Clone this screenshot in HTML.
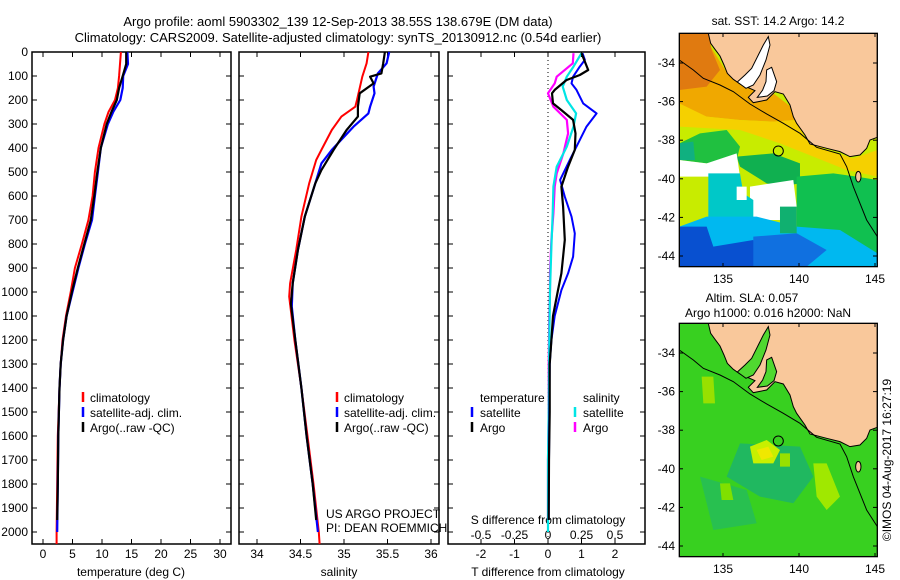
<!DOCTYPE html>
<html><head><meta charset="utf-8"><style>
html,body{margin:0;padding:0;background:#fff;}
svg{display:block;font-family:"Liberation Sans",sans-serif;}
</style></head><body>
<svg id="fig" width="900" height="580" viewBox="0 0 900 580" xmlns="http://www.w3.org/2000/svg">
<text x="338" y="26" font-size="13" text-anchor="middle">Argo profile: aoml 5903302_139 12-Sep-2013 38.55S 138.679E (DM data)</text>
<text x="338" y="42" font-size="13" text-anchor="middle">Climatology: CARS2009. Satellite-adjusted climatology: synTS_20130912.nc (0.54d earlier)</text>
<g id="panels"></g>
<g id="maps"></g>
<text transform="translate(891,460) rotate(-90)" font-size="12" text-anchor="middle">©IMOS 04-Aug-2017 16:27:19</text>
</svg>
<script>
// ---- data ----
const depthTicks = [0,100,200,300,400,500,600,700,800,900,1000,1100,1200,1300,1400,1500,1600,1700,1800,1900,2000];
const tempTicks = [0,5,10,15,20,25,30];
const salTicks = [34,34.5,35,35.5,36];
const tdiffTicks = [-2,-1,0,1,2];
const sdiffTicks = [-0.5,-0.25,0,0.25,0.5];
const tempClimD = [0,100,150,200,250,300,400,500,600,700,800,900,1000,1100,1200,1300,1400,1600,1800,2000,2050];
const tempClim = [13.2,12.9,12.7,12.2,11.1,10.4,9.4,8.8,8.4,7.7,6.6,5.4,4.7,3.9,3.3,3.0,2.8,2.5,2.4,2.3,2.3];
const tempArgoD = [0,50,100,150,200,250,300,400,500,600,700,800,900,1000,1100,1200,1300,1400,1600,1800,1950];
const tempArgo = [14.1,14.1,13.5,12.9,12.5,11.6,10.8,9.8,9.2,8.7,8.1,7.0,5.9,4.9,4.0,3.4,3.0,2.8,2.6,2.5,2.4];
const tempSatD = [0,50,100,150,200,250,300,400,500,600,700,800,900,1000,1100,1200,1300,1400,1600,1800,2000];
const tempSat = [14.3,14.4,13.6,13.5,13.1,11.9,11.0,9.8,9.3,8.8,8.3,7.1,6.0,5.0,4.0,3.4,3.0,2.8,2.6,2.5,2.4];
const salClimD = [0,47,103,200,228,269,325,408,450,547,686,825,964,1019,1200,1400,1600,1800,2000,2050];
const salClim = [35.28,35.26,35.21,35.15,35.13,34.97,34.86,34.74,34.68,34.60,34.51,34.45,34.38,34.37,34.43,34.51,34.58,34.65,34.71,34.72];
const salArgoD = [0,47,89,103,131,172,228,269,325,408,492,547,686,825,964,1050,1200,1400,1600,1800,1950];
const salArgo = [35.47,35.45,35.43,35.30,35.34,35.18,35.16,35.16,35.03,34.88,34.74,34.67,34.55,34.47,34.41,34.39,34.44,34.51,34.57,34.64,34.68];
const salSatD = [0,47,89,144,172,228,256,311,408,464,547,686,825,964,1061,1200,1400,1600,1800,2000];
const salSat = [35.52,35.49,35.39,35.34,35.35,35.30,35.28,35.11,34.86,34.74,34.67,34.55,34.47,34.41,34.40,34.44,34.51,34.57,34.64,34.70];
const tdArgoD = [5,75,96,117,158,172,214,242,283,339,408,478,561,644,783,922,992,1100,1200,1300,1500,1700,1950];
const tdArgo = [1.0,1.2,0.95,0.55,0.2,0.12,0.15,0.4,0.75,0.82,0.8,0.6,0.4,0.45,0.5,0.4,0.3,0.15,0.1,0.05,0.05,0.03,0.02];
const tdSatD = [5,33,61,103,131,158,214,256,311,394,450,533,603,686,756,853,922,992,1100,1200,1300,1500,1700,1950];
const tdSat = [1.03,1.1,0.95,0.75,0.7,0.85,1.05,1.45,1.15,0.85,0.65,0.36,0.5,0.7,0.8,0.75,0.6,0.4,0.2,0.1,0.05,0.04,0.03,0.02];
const sdArgoD = [5,47,103,131,172,228,283,339,422,506,561,672,783,922,992,1100,1300,1500,1700,1950];
const sdArgo = [0.19,0.185,0.065,0.05,0,0.04,0.14,0.15,0.115,0.065,0.05,0.04,0.025,0.015,0.015,0.01,0.005,0.005,0,0];
const sdSatD = [5,61,103,144,200,256,311,394,478,561,672,811,992,1200,1500,1700,2000];
const sdSat = [0.25,0.19,0.14,0.11,0.14,0.21,0.19,0.14,0.065,0.04,0.035,0.025,0.015,0.01,0.005,0,0];
const latTicks = [-34,-36,-38,-40,-42,-44];
const lonTicks = [135,140,145];

const NS="http://www.w3.org/2000/svg";
const P=document.getElementById('panels');
function mk(tag,at,parent){const e=document.createElementNS(NS,tag);for(const k in at)e.setAttribute(k,at[k]);(parent||P).appendChild(e);return e;}
const yD = d => 52 + 0.24*d;
const TOPY=52, BOTY=544;

function frame(x0,x1,name){
  const r=mk('rect',{x:x0,y:TOPY,width:x1-x0,height:BOTY-TOPY,fill:'none',stroke:'#000','stroke-width':1.5});
  
  
  depthTicks.forEach(d=>{
    const t=mk('line',{x1:x0,x2:x0+5,y1:yD(d),y2:yD(d),stroke:'#000'});
    
    
    const t2=mk('line',{x1:x1-5,x2:x1,y1:yD(d),y2:yD(d),stroke:'#000'});
    
    
  });
}
function xTicks(vals,fx,labels,ly){
  vals.forEach((v,i)=>{
    const x=fx(v);
    const a=mk('line',{x1:x,x2:x,y1:TOPY,y2:TOPY+5,stroke:'#000'});
    
    
    const b=mk('line',{x1:x,x2:x,y1:BOTY-5,y2:BOTY,stroke:'#000'});
    
    
    if(labels){
      const t=mk('text',{x:x,y:ly,'font-size':12,'text-anchor':'middle'});
      t.textContent=labels[i];
      
      
    }
  });
}
function line(ds,vs,fx,color,name,w){
  const pts=ds.map((d,i)=>fx(vs[i]).toFixed(1)+','+yD(d).toFixed(1)).join(' ');
  const l=mk('polyline',{points:pts,fill:'none',stroke:color,'stroke-width':w||2,'stroke-linejoin':'round'});
  
  
}
function txt(x,y,s,name,anchor,size){
  const t=mk('text',{x:x,y:y,'font-size':size||12,'text-anchor':anchor||'start'});
  t.textContent=s;
  
  
}
function legBar(x,y,color,name){
  const b=mk('line',{x1:x,x2:x,y1:y-10,y2:y,stroke:color,'stroke-width':2.5});
  
  
}

// Panel 1 temperature
const fT = v => 43 + 5.9*v;
frame(32,231,'temperature-panel-frame');
depthTicks.forEach(d=>txt(28,yD(d)+4,String(d),'depth-tick-label','end'));
xTicks(tempTicks,fT,tempTicks.map(String),558);
txt(131,576,'temperature (deg C)','temperature-axis-title','middle');
line(tempClimD,tempClim,fT,'#ff0000','temp-climatology-line',2);
line(tempSatD,tempSat,fT,'#0000ff','temp-satellite-line',2.2);
line(tempArgoD,tempArgo,fT,'#000000','temp-argo-line',2.2);
legBar(83,402,'#ff0000','legend-climatology-swatch');txt(90,402,'climatology','legend-climatology');
legBar(83,417,'#0000ff','legend-satellite-swatch');txt(90,417,'satellite-adj. clim.','legend-satellite');
legBar(83,432,'#000000','legend-argo-swatch');txt(90,432,'Argo(..raw -QC)','legend-argo');

// Panel 2 salinity
const fS = v => 257 + 87*(v-34);
frame(239,439,'salinity-panel-frame');
xTicks(salTicks,fS,salTicks.map(String),558);
txt(339,576,'salinity','salinity-axis-title','middle');
line(salClimD,salClim,fS,'#ff0000','sal-climatology-line',2);
line(salSatD,salSat,fS,'#0000ff','sal-satellite-line',2.2);
line(salArgoD,salArgo,fS,'#000000','sal-argo-line',2.2);
legBar(337,402,'#ff0000','legend2-climatology-swatch');txt(344,402,'climatology','legend2-climatology');
legBar(337,417,'#0000ff','legend2-satellite-swatch');txt(344,417,'satellite-adj. clim.','legend2-satellite');
legBar(337,432,'#000000','legend2-argo-swatch');txt(344,432,'Argo(..raw -QC)','legend2-argo');
txt(326,518,'US ARGO PROJECT','project-credit');
txt(326,532,'PI: DEAN ROEMMICH','pi-credit');

// Panel 3 differences
const fTd = v => 548 + 33.5*v;
const fSd = v => 548 + 134*v;
frame(448,645,'difference-panel-frame');
xTicks(tdiffTicks,fTd,tdiffTicks.map(String),558);
sdiffTicks.forEach((v,i)=>txt(fSd(v),539,String(v),'s-diff-tick-label','middle'));
txt(548,524,'S difference from climatology','s-diff-axis-title','middle');
txt(548,576,'T difference from climatology','t-diff-axis-title','middle');
const z=mk('line',{x1:548,x2:548,y1:TOPY,y2:BOTY,stroke:'#000','stroke-dasharray':'1,3'});


line(sdArgoD,sdArgo,fSd,'#ff00ff','sdiff-argo-line',2.2);
line(sdSatD,sdSat,fSd,'#00e5e5','sdiff-satellite-line',2.2);
line(tdSatD,tdSat,fTd,'#0000ff','tdiff-satellite-line',2);
line(tdArgoD,tdArgo,fTd,'#000000','tdiff-argo-line',2.2);
txt(480,402,'temperature','legend3-temperature-header');
txt(583,402,'salinity','legend3-salinity-header');
legBar(472,417,'#0000ff','legend3-tsat-swatch');txt(480,417,'satellite','legend3-tsat');
legBar(472,432,'#000000','legend3-targo-swatch');txt(480,432,'Argo','legend3-targo');
legBar(575,417,'#00e5e5','legend3-ssat-swatch');txt(583,417,'satellite','legend3-ssat');
legBar(575,432,'#ff00ff','legend3-sargo-swatch');txt(583,432,'Argo','legend3-sargo');

// ---- maps ----
const M=document.getElementById('maps');
function mm(tag,at,parent){const e=document.createElementNS(NS,tag);for(const k in at)e.setAttribute(k,at[k]);parent.appendChild(e);return e;}
const land="205,40 212,70 225,88 240,108 252,135 262,160 280,178 300,192 345,212 325,232 340,248 380,240 405,215 430,222 450,255 460,290 470,310 495,345 510,372 560,385 600,395 630,410 660,405 680,385 690,360 712,352 712,40";
const gulfA="292,186 315,165 335,145 355,105 370,75 385,50 390,75 378,120 360,165 340,195 318,205";
const gulfB="380,150 395,142 410,185 402,212 382,228 352,232 368,210 378,185";
const shelf="118,120 160,150 190,175 240,195 280,215 330,252 380,282 430,310 480,340 530,382 600,402 620,440 640,500 680,600 712,650";
const oceanRegionsSST=[
 ['#c8ec00','118,40 712,40 712,740 118,740'],
 ['#f0a800','118,40 205,40 212,80 262,160 300,185 400,220 455,262 465,300 400,305 300,300 200,290 118,290'],
 ['#e07a10','118,40 205,40 215,90 240,150 200,200 118,210'],
 ['#f5d000','118,250 200,290 300,300 400,305 465,300 500,360 560,390 640,415 712,390 712,470 620,450 520,410 420,370 300,330 118,320'],
 ['#20c040','118,370 180,340 260,330 300,380 290,420 200,430 118,420'],
 ['#10b080','118,370 160,365 165,420 118,420'],
 ['#10b050','290,410 400,400 480,430 480,490 420,500 380,490 300,440'],
 ['#10c050','470,470 580,460 650,470 712,480 712,740 470,740'],
 ['#ffffff','118,420 200,430 290,400 300,470 210,470 118,470'],
 ['#ffffff','330,500 460,480 470,560 420,600 330,600'],
 ['#00c8c8','205,460 300,460 310,520 340,540 340,600 205,600'],
 ['#00b8f0','200,590 350,590 470,620 600,630 712,700 712,740 118,740 118,620'],
 ['#0850d0','118,620 200,620 220,680 340,660 350,740 118,740'],
 ['#1070e0','340,650 470,640 560,690 500,740 340,740'],
 ['#ffffff','290,500 320,500 320,540 290,540'],
 ['#10b070','420,560 470,560 470,640 420,640']
];
const oceanRegionsSLA=[
 ['#38d020','118,100 712,100 712,800 118,800'],
 ['#20b860','300,460 480,470 520,560 460,640 360,620 260,560'],
 ['#28c050','180,560 320,600 350,700 220,720'],
 ['#c8f000','330,470 380,450 420,480 400,520 340,520'],
 ['#f0e800','350,480 385,470 400,500 365,510'],
 ['#a0e800','520,520 560,520 600,620 560,660 530,620'],
 ['#98e000','420,490 450,490 450,530 420,530'],
 ['#98e000','185,260 220,260 225,340 190,340'],
 ['#80e000','240,580 270,580 280,630 245,630']
];
function buildMap(oy,zy0,regions,name,gulfFill){
  const g=mm('g',{transform:`translate(640,${oy}) scale(0.3333)`},M);
  
  
  const clip=mm('clipPath',{id:name+'-clip'},g);
  mm('rect',{x:118,y:zy0,width:594,height:700},clip);
  const inner=mm('g',{'clip-path':`url(#${name}-clip)`},g);
  const sh=zy0-40;
  regions.forEach(r=>{const p=mm('polygon',{points:r[1],fill:r[0]},inner);});
  const lg=mm('g',{transform:`translate(0,${sh})`},inner);
  const L=mm('polygon',{points:land,fill:'#f9c89b',stroke:'#000','stroke-width':3},lg);
  
  
  const ga=mm('polygon',{points:gulfA,fill:gulfFill,stroke:'#000','stroke-width':3},lg);
  
  
  const gb=mm('polygon',{points:gulfB,fill:gulfFill,stroke:'#000','stroke-width':3},lg);
  
  
  const isl=mm('ellipse',{cx:655,cy:470,rx:8,ry:16,fill:'#f9c89b',stroke:'#000','stroke-width':3},lg);
  
  
  const s=mm('polyline',{points:shelf,fill:'none',stroke:'#000','stroke-width':3},lg);
  
  
  const c=mm('circle',{cx:415,cy:393,r:15,fill:'none',stroke:'#000','stroke-width':3},lg);
  
  
  const f=mm('rect',{x:118,y:zy0,width:594,height:700,fill:'none',stroke:'#000','stroke-width':4},g);
  
  
}
function mapAxes(top0,bottom0,lat34){
  const x0=679,x1=877;
  const fy=l=>lat34+(-34-l)*19.3;
  const fx=l=>723+(l-135)*15.2;
  latTicks.forEach(l=>{
    const y=fy(l);
    const a=mm('line',{x1:x0,x2:x0+4,y1:y,y2:y,stroke:'#000'},M);
    const b=mm('line',{x1:x1-4,x2:x1,y1:y,y2:y,stroke:'#000'},M);
    const t=mm('text',{x:675,y:y+4,'font-size':12,'text-anchor':'end'},M);t.textContent=String(l);
    
  });
  lonTicks.forEach(l=>{
    const x=fx(l);
    const a=mm('line',{x1:x,x2:x,y1:top0,y2:top0+4,stroke:'#000'},M);
    const b=mm('line',{x1:x,x2:x,y1:bottom0-4,y2:bottom0,stroke:'#000'},M);
    const t=mm('text',{x:x,y:bottom0+16,'font-size':12,'text-anchor':'middle'},M);t.textContent=String(l);
    
  });
}
buildMap(20,40,oceanRegionsSST,'sst-map','#ffffff');
buildMap(290,100,oceanRegionsSLA,'sla-map','#50d830');
mapAxes(33,267,63);
mapAxes(323,557,353);
function mt(x,y,s,name){const t=mm('text',{x:x,y:y,'font-size':12,'text-anchor':'middle'},M);t.textContent=s;}
mt(778,25,'sat. SST: 14.2 Argo: 14.2','sst-map-title');
mt(752,302,'Altim. SLA: 0.057','sla-map-title');
mt(768,317,'Argo h1000: 0.016 h2000: NaN','argo-height-title');
</script>
</body></html>
